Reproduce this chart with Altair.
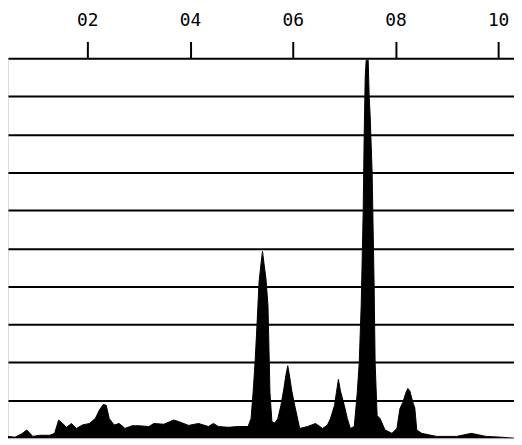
import altair as alt
import pandas as pd

# Spectrum trace (x in axis units, y in grid units 0-10)
x_vals = [0.0454, 0.0589, 0.0725, 0.0821, 0.0937, 0.1072, 0.1266, 0.1362, 0.1440, 0.1517,
          0.1594, 0.1691, 0.1787, 0.1903, 0.2039, 0.2155, 0.2232, 0.2309, 0.2367, 0.2425,
          0.2522, 0.2618, 0.2734, 0.2870, 0.3005, 0.3198, 0.3295, 0.3488, 0.3681, 0.3778,
          0.3971, 0.4164, 0.4357, 0.4454, 0.4551, 0.4744, 0.4937, 0.5130, 0.5188, 0.5227,
          0.5266, 0.5304, 0.5343, 0.5382, 0.5411, 0.5440, 0.5478, 0.5517, 0.5536, 0.5556,
          0.5594, 0.5652, 0.5710, 0.5768, 0.5826, 0.5865, 0.5903, 0.5942, 0.5981, 0.6039,
          0.6097, 0.6135, 0.6290, 0.6444, 0.6580, 0.6676, 0.6734, 0.6812, 0.6850, 0.6889,
          0.6928, 0.7005, 0.7063, 0.7121, 0.7198, 0.7217, 0.7256, 0.7295, 0.7333, 0.7372,
          0.7391, 0.7411, 0.7430, 0.7469, 0.7488, 0.7507, 0.7546, 0.7585, 0.7604, 0.7643,
          0.7700, 0.7797, 0.7932, 0.8029, 0.8087, 0.8145, 0.8203, 0.8242, 0.8280, 0.8338,
          0.8377, 0.8415, 0.8512, 0.8802, 0.9188, 0.9478, 0.9768, 1.0058, 1.0309]
y_vals = [0.05, 0.03, 0.12, 0.22, 0.05, 0.08, 0.08, 0.13, 0.48, 0.39,
          0.29, 0.39, 0.26, 0.35, 0.39, 0.52, 0.74, 0.89, 0.87, 0.52,
          0.35, 0.39, 0.26, 0.33, 0.33, 0.31, 0.39, 0.37, 0.48, 0.44,
          0.34, 0.39, 0.31, 0.39, 0.31, 0.29, 0.31, 0.31, 0.52, 1.2,
          2.0, 3.0, 4.1, 4.6, 4.92, 4.6, 4.2, 3.5, 2.4, 1.2,
          0.44, 0.4, 0.52, 0.86, 1.3, 1.65, 1.91, 1.6, 1.25, 0.86,
          0.5, 0.26, 0.31, 0.39, 0.26, 0.35, 0.52, 0.86, 1.2, 1.55,
          1.25, 0.86, 0.52, 0.26, 0.31, 0.6, 1.2, 2.0, 3.5, 6.0,
          8.0, 9.5, 9.95, 9.95, 9.0, 8.5, 7.0, 4.0, 2.0, 0.6,
          0.52, 0.22, 0.13, 0.26, 0.78, 0.95, 1.2, 1.31, 1.25, 0.95,
          0.8, 0.22, 0.13, 0.05, 0.05, 0.13, 0.05, 0.03, 0.0]

tick_values = [0.2, 0.4, 0.6, 0.8, 1.0]
grid_values = [1, 2, 3, 4, 5, 6, 7, 8, 9]

df = pd.DataFrame({"x": x_vals, "y": y_vals})

chart = alt.Chart(df).mark_area(
    color="black", interpolate="linear", clip=True,
    stroke="black", strokeWidth=1
).encode(
    x=alt.X("x:Q", scale=alt.Scale(domain=[0.0454, 1.0309], nice=False, zero=False),
            axis=alt.Axis(orient="top", values=tick_values, title=None,
                          labelExpr="format(round(datum.value*10), '02d')",
                          grid=False, domainColor="black", domainWidth=2,
                          tickColor="black", tickWidth=2, tickSize=17,
                          labelPadding=12, labelFont="DejaVu Sans Mono",
                          labelFontSize=18, labelColor="black")),
    y=alt.Y("y:Q", scale=alt.Scale(domain=[0, 10], nice=False),
            axis=alt.Axis(values=grid_values, title=None, labels=False, ticks=False,
                          domain=False, grid=True, gridColor="black", gridWidth=2,
                          gridOpacity=1))
).properties(
    width=510, height=383,
    padding={"left": 0, "top": 2, "right": 0, "bottom": 0}
).configure_view(
    stroke="black", strokeWidth=2
).configure(background="white")

chart.save("out.html", embed_options={"renderer": "svg", "actions": False})
